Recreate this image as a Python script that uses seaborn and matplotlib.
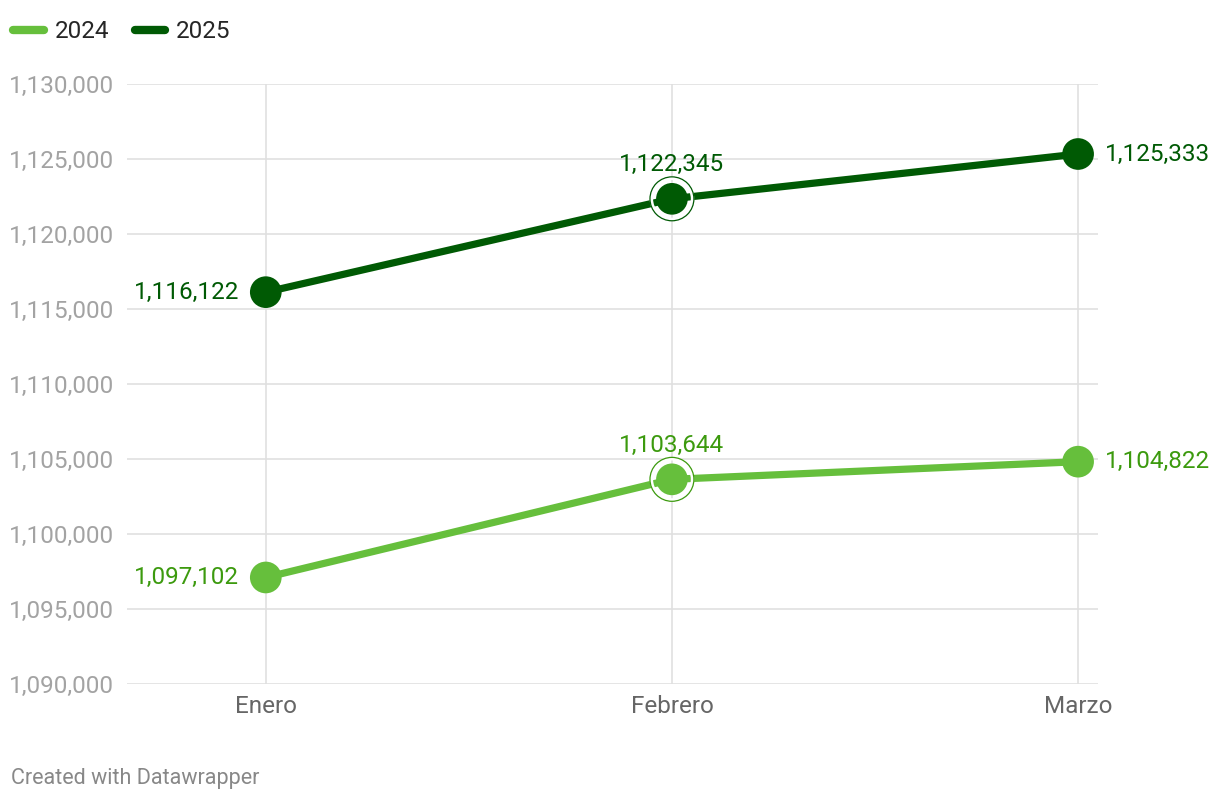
import numpy as np
import pandas as pd
import seaborn as sns
from matplotlib import pyplot as plt
from matplotlib.lines import Line2D
from matplotlib.ticker import FuncFormatter

months = ['Enero', 'Febrero', 'Marzo']
values_2024 = [1097102, 1103644, 1104822]
values_2025 = [1116122, 1122345, 1125333]
series = ['2024', '2025']
y_ticks = [1090000, 1095000, 1100000, 1105000, 1110000, 1115000, 1120000, 1125000, 1130000]

line_colors = {'2024': '#66bf3c', '2025': '#005a04'}
label_colors = {'2024': '#3c9a0e', '2025': '#005a04'}


def plot():
    sns.set_style('white')
    plt.rcParams['font.family'] = ['Roboto', 'DejaVu Sans']

    data = pd.DataFrame({
        'month': months * 2,
        'value': values_2024 + values_2025,
        'year': ['2024'] * 3 + ['2025'] * 3,
    })
    data['pos'] = data['month'].map({m: i for i, m in enumerate(months)})

    fig = plt.figure(figsize=(12.2, 8), dpi=100)
    ax = fig.add_axes([0.104, 0.145, 0.796, 0.75])

    sns.lineplot(data=data, x='pos', y='value', hue='year', palette=line_colors,
                 linewidth=5.2, legend=False, ax=ax, zorder=3)
    sns.scatterplot(data=data, x='pos', y='value', hue='year', palette=line_colors,
                    s=520, linewidth=0, legend=False, ax=ax, zorder=4)

    # highlighted ring on Febrero
    feb = data[data['month'] == 'Febrero']
    for _, row in feb.iterrows():
        ax.scatter(row['pos'], row['value'], s=880, facecolor='none',
                   edgecolor='white', linewidth=2.5, zorder=5)
        ax.scatter(row['pos'], row['value'], s=1000, facecolor='none',
                   edgecolor=label_colors[row['year']], linewidth=0.9, zorder=5)

    fs = 17.5
    for _, row in data.iterrows():
        txt = f"{row['value']:,}"
        c = label_colors[row['year']]
        if row['month'] == 'Enero':
            ax.annotate(txt, (row['pos'], row['value']), xytext=(-19, 0), textcoords='offset points',
                        ha='right', va='center', fontsize=fs, color=c, zorder=6)
        elif row['month'] == 'Febrero':
            ax.annotate(txt, (row['pos'], row['value']), xytext=(0, 24.5), textcoords='offset points',
                        ha='center', va='center', fontsize=fs, color=c, zorder=6)
        else:
            ax.annotate(txt, (row['pos'], row['value']), xytext=(19, 0), textcoords='offset points',
                        ha='left', va='center', fontsize=fs, color=c, zorder=6)

    ax.set_xlim(-0.342, 2.049)
    ax.set_ylim(y_ticks[0], y_ticks[-1])
    ax.set_xticks(range(len(months)))
    ax.set_xticklabels(months)
    ax.set_yticks(y_ticks)
    ax.yaxis.set_major_formatter(FuncFormatter(lambda v, p: f'{int(v):,}'))
    ax.grid(True, color='#e0e0e0', linewidth=1.2, zorder=0)
    ax.set_axisbelow(True)
    sns.despine(ax=ax, top=True, right=True, left=True, bottom=True)
    ax.tick_params(axis='y', length=0, pad=9, labelsize=fs, labelcolor='#a3a3a3')
    ax.tick_params(axis='x', length=0, pad=8, labelsize=fs, labelcolor='#666666')
    ax.set_xlabel('')
    ax.set_ylabel('')

    handles = [Line2D([0], [0], color=line_colors[s], linewidth=6, solid_capstyle='round') for s in series]
    fig.legend(handles, series, loc='center left', bbox_to_anchor=(0.011, 0.96), ncol=2, frameon=False,
               fontsize=fs, handlelength=1.25, handletextpad=0.45, columnspacing=1.05, borderaxespad=0.0,
               borderpad=0.0)

    fig.text(0.009, 0.02, 'Created with Datawrapper', fontsize=15.5, color='#888888')

    plt.savefig('out.png', dpi=100)


if __name__ == '__main__':
    plot()
